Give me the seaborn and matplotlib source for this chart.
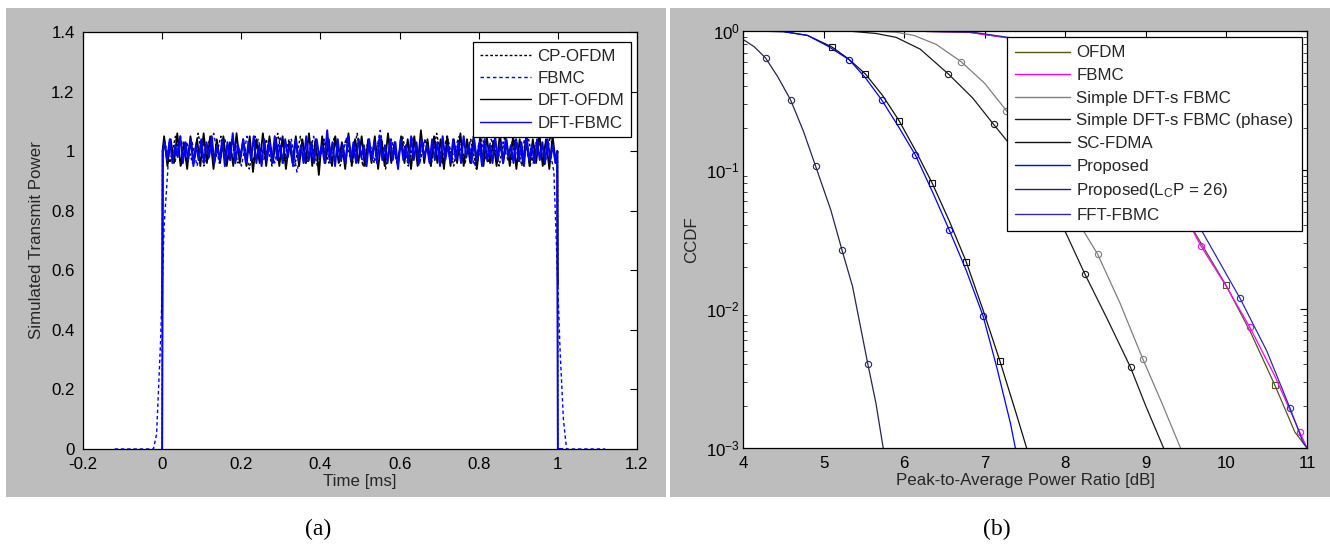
import numpy as np
import matplotlib
matplotlib.use("Agg")
import matplotlib.pyplot as plt
from matplotlib.lines import Line2D
from matplotlib.patches import Rectangle
import seaborn as sns

# ------------------------------------------------------------------ panel (a) data
a_labels = ["CP-OFDM", "FBMC", "DFT-OFDM", "DFT-FBMC"]
a_xticks = [-0.2, 0, 0.2, 0.4, 0.6, 0.8, 1.0, 1.2]
a_xticklabels = ["-0.2", "0", "0.2", "0.4", "0.6", "0.8", "1", "1.2"]
a_yticks = [0, 0.2, 0.4, 0.6, 0.8, 1.0, 1.2, 1.4]
a_yticklabels = ["0", "0.2", "0.4", "0.6", "0.8", "1", "1.2", "1.4"]

# edge samples (time in ms, power)
cp_ofdm_head_t = [0.0, 0.001]
cp_ofdm_head_p = [0.0, 1.0]
cp_ofdm_tail_t = [0.999, 1.0]
cp_ofdm_tail_p = [1.0, 0.0]
fbmc_head_t = [-0.12, -0.022, -0.014, -0.004, 0.005, 0.014]
fbmc_head_p = [0.0, 0.0, 0.05, 0.36, 0.75, 0.93]
fbmc_tail_t = [0.99, 0.996, 1.005, 1.014, 1.022, 1.12]
fbmc_tail_p = [0.93, 0.70, 0.35, 0.10, 0.0, 0.0]
dft_ofdm_head_t = [0.0, 0.001]
dft_ofdm_head_p = [0.45, 1.0]
dft_ofdm_tail_t = [0.999, 1.0]
dft_ofdm_tail_p = [1.0, 0.55]
dft_fbmc_head_t = [0.0, 0.002]
dft_fbmc_head_p = [0.0, 1.0]
dft_fbmc_tail_t = [0.998, 1.0, 1.012]
dft_fbmc_tail_p = [1.0, 0.0, 0.0]

# plateau samples (power)
cp_ofdm_plateau = [
    1.04, 0.96, 1.05, 0.95, 1.03, 0.96, 1.06, 0.95, 1.04, 0.97,
    1.05, 0.95, 1.04, 0.96, 1.03, 0.94, 1.05, 0.96, 1.04, 0.95,
    1.06, 0.96, 1.04, 0.95, 1.05, 0.96, 1.03, 0.95, 1.04, 0.96,
    1.05, 0.95, 1.04, 0.96, 1.06, 0.95, 1.04, 0.96, 1.05, 0.94,
    1.04, 0.96, 1.05, 0.95, 1.03, 0.96, 1.04, 0.95, 1.06, 0.96,
    1.04, 0.95, 1.05, 0.96, 1.04, 0.94, 1.05, 0.96, 1.04, 0.95,
    1.05, 0.96, 1.04, 0.95, 1.06, 0.96, 1.04, 0.95, 1.05, 0.96]
fbmc_plateau = [
    1.03, 0.96, 1.05, 0.97, 1.04, 0.95, 1.03, 0.97, 1.06, 0.96,
    1.04, 0.97, 1.03, 0.95, 1.05, 0.96, 1.04, 0.97, 1.03, 0.96,
    1.05, 0.97, 1.04, 0.93, 1.03, 0.96, 1.05, 0.97, 1.04, 0.96,
    1.03, 0.97, 1.05, 0.96, 1.04, 0.95, 1.03, 0.97, 1.07, 0.96,
    1.04, 0.97, 1.03, 0.96, 1.05, 0.95, 1.04, 0.97, 1.03, 0.96,
    1.05, 0.97, 1.04, 0.96, 1.03, 0.95, 1.05, 0.97, 1.04, 0.96,
    1.03, 0.97, 1.05, 0.96, 1.04, 0.95, 1.03, 0.97, 1.04, 0.96]
dft_ofdm_plateau = [
    1.05, 0.95, 1.04, 0.96, 1.06, 0.95, 1.03, 0.94, 1.05, 0.96,
    1.04, 0.95, 1.06, 0.96, 1.05, 0.94, 1.04, 0.96, 1.05, 0.95,
    1.03, 0.95, 1.06, 0.96, 1.04, 0.95, 1.05, 0.93, 1.04, 0.96,
    1.06, 0.95, 1.05, 0.96, 1.04, 0.95, 1.05, 0.94, 1.03, 0.96,
    1.05, 0.95, 1.04, 0.96, 1.06, 0.95, 1.04, 0.92, 1.05, 0.96,
    1.04, 0.95, 1.05, 0.96, 1.03, 0.94, 1.06, 0.95, 1.04, 0.96,
    1.05, 0.95, 1.04, 0.96, 1.05, 0.94, 1.04, 0.95, 1.06, 0.96,
    1.03, 0.95, 1.05, 0.96, 1.04, 0.94, 1.05, 0.95, 1.07, 0.96,
    1.04, 0.95, 1.05, 0.96, 1.04, 0.94, 1.05, 0.95, 1.04, 0.96,
    1.06, 0.95, 1.04, 0.96, 1.05, 0.94, 1.04, 0.95, 1.05, 0.96,
    1.03, 0.95, 1.06, 0.96, 1.04, 0.95, 1.05, 0.94, 1.04, 0.96,
    1.05, 0.95, 1.04, 0.96, 1.06, 0.95, 1.04, 0.94, 1.05, 0.96]
dft_fbmc_plateau = [
    1.03, 0.97, 1.04, 0.96, 1.02, 0.98, 1.05, 0.96, 1.03, 0.97,
    1.04, 0.95, 1.02, 0.97, 1.04, 0.96, 1.03, 0.98, 1.05, 0.96,
    1.02, 0.97, 1.04, 0.95, 1.03, 0.97, 1.06, 0.96, 1.02, 0.98,
    1.04, 0.96, 1.03, 0.97, 1.05, 0.96, 1.02, 0.95, 1.04, 0.97,
    1.03, 0.96, 1.05, 0.97, 1.02, 0.96, 1.04, 0.98, 1.03, 0.95,
    1.04, 0.97, 1.02, 0.96, 1.05, 0.97, 1.03, 0.96, 1.04, 0.98,
    1.02, 0.96, 1.07, 0.97, 1.03, 0.95, 1.04, 0.97, 1.02, 0.96,
    1.05, 0.97, 1.03, 0.96, 1.04, 0.98, 1.02, 0.95, 1.04, 0.97,
    1.03, 0.96, 1.05, 0.97, 1.02, 0.96, 1.04, 0.97, 1.03, 0.94,
    1.04, 0.97, 1.02, 0.96, 1.05, 0.97, 1.03, 0.96, 1.04, 0.98,
    1.02, 0.96, 1.04, 0.97, 1.03, 0.95, 1.05, 0.97, 1.02, 0.96,
    1.04, 0.97, 1.03, 0.96, 1.05, 0.98, 1.02, 0.96, 1.04, 0.97,
    1.03, 0.95, 1.04, 0.97, 1.02, 0.96, 1.05, 0.97, 1.03, 0.96,
    1.04, 0.98, 1.02, 0.96, 1.04, 0.97, 1.03, 0.95, 1.05, 0.97,
    1.02, 0.96, 1.04, 0.97, 1.03, 0.96, 1.04, 0.97, 1.02, 0.96]

# ------------------------------------------------------------------ panel (b) data
b_labels = ["OFDM", "FBMC", "Simple DFT-s FBMC", "Simple DFT-s FBMC (phase)",
            "SC-FDMA", "Proposed", r"Proposed(L$_\mathregular{C}$P = 26)", "FFT-FBMC"]
b_xticks = [4, 5, 6, 7, 8, 9, 10, 11]

ofdm_x = [4.0, 6.0, 6.8, 7.3, 7.8, 8.3, 8.8, 9.2, 9.6, 9.99, 10.3, 10.60, 10.85, 11.0]
ofdm_y = [1.0, 1.0, 0.98, 0.89, 0.72, 0.47, 0.22, 0.095, 0.036, 0.0150, 0.0068, 0.00284, 0.0013, 0.0010]
fbmc_x = [4.0, 6.0, 6.8, 7.3, 7.8, 8.3, 8.8, 9.2, 9.59, 9.68, 10.0, 10.29, 10.6, 10.91, 11.0]
fbmc_y = [1.0, 1.0, 0.98, 0.89, 0.72, 0.47, 0.22, 0.095, 0.036, 0.0286, 0.0145, 0.0074, 0.0033, 0.0013, 0.0010]
simple_x = [4.0, 5.6, 5.9, 6.12, 6.4, 6.71, 7.0, 7.27, 7.55, 7.83, 8.1, 8.40, 8.68, 8.96, 9.2, 9.43]
simple_y = [1.0, 1.0, 0.98, 0.93, 0.80, 0.60, 0.42, 0.267, 0.155, 0.086, 0.048, 0.0249, 0.011, 0.0044, 0.0021, 0.0010]
phase_x = [4.0, 5.3, 5.65, 5.9, 6.2, 6.55, 6.85, 7.11, 7.32, 7.67, 8.0, 8.24, 8.52, 8.81, 9.0, 9.22]
phase_y = [1.0, 1.0, 0.96, 0.90, 0.74, 0.49, 0.33, 0.213, 0.151, 0.075, 0.036, 0.018, 0.0085, 0.0038, 0.0020, 0.0010]
scfdma_x = [4.0, 4.5, 4.8, 5.10, 5.31, 5.52, 5.73, 5.94, 6.15, 6.35, 6.56, 6.77, 6.98, 7.19, 7.40, 7.52]
scfdma_y = [1.0, 0.99, 0.93, 0.77, 0.63, 0.49, 0.345, 0.225, 0.135, 0.080, 0.043, 0.0219, 0.0098, 0.0042, 0.0017, 0.0010]
proposed_x = [4.0, 4.5, 4.8, 5.05, 5.32, 5.52, 5.72, 5.93, 6.14, 6.35, 6.56, 6.77, 6.98, 7.15, 7.32, 7.38]
proposed_y = [1.0, 0.99, 0.93, 0.78, 0.62, 0.46, 0.32, 0.205, 0.128, 0.070, 0.037, 0.019, 0.0089, 0.0038, 0.0015, 0.0010]
lcp_x = [4.0, 4.14, 4.28, 4.43, 4.59, 4.75, 4.90, 5.09, 5.23, 5.36, 5.55, 5.65, 5.74]
lcp_y = [0.87, 0.77, 0.64, 0.47, 0.32, 0.19, 0.107, 0.0515, 0.0264, 0.0145, 0.0040, 0.0021, 0.0010]
fft_x = [4.0, 6.0, 6.85, 7.35, 7.85, 8.35, 8.85, 9.28, 9.70, 10.17, 10.5, 10.79, 10.95, 11.0]
fft_y = [1.0, 1.0, 0.98, 0.89, 0.72, 0.47, 0.22, 0.095, 0.036, 0.0119, 0.0050, 0.00193, 0.0011, 0.0010]

# ------------------------------------------------------------------ style
sns.set_theme(style="white")
plt.rcParams["font.family"] = ["Liberation Sans", "DejaVu Sans"]
plt.rcParams["mathtext.fontset"] = "custom"
plt.rcParams["mathtext.rm"] = "Liberation Sans"
plt.rcParams["mathtext.it"] = "Liberation Sans:italic"
plt.rcParams["axes.edgecolor"] = "black"
plt.rcParams["axes.linewidth"] = 0.9
FS = 12.2
GRAY = "#BDBDBD"

W, H = 1330, 546
fig = plt.figure(figsize=(W / 100, H / 100), dpi=100)
fig.patch.set_facecolor("white")

# grey figure panels
fig.patches.append(Rectangle((6 / W, 1 - 497 / H), 660 / W, 489 / H,
                             transform=fig.transFigure, facecolor=GRAY, edgecolor="none", zorder=-5))
fig.patches.append(Rectangle((670 / W, 1 - 497 / H), 660 / W, 489 / H,
                             transform=fig.transFigure, facecolor=GRAY, edgecolor="none", zorder=-5))


def px_rect(x0, y0, x1, y1):
    return [x0 / W, 1 - y1 / H, (x1 - x0) / W, (y1 - y0) / H]


axA = fig.add_axes(px_rect(83, 32, 637, 449))
axB = fig.add_axes(px_rect(743, 31, 1307, 448))
for ax in (axA, axB):
    ax.set_facecolor("white")
    for s in ax.spines.values():
        s.set_color("black")
        s.set_linewidth(0.9)

# ------------------------------------------------------------------ panel (a)
def series(head_t, head_p, plateau, tail_t, tail_p):
    grid = np.linspace(head_t[-1] + 0.004, tail_t[0] - 0.004, len(plateau))
    t = np.concatenate([head_t, grid, tail_t])
    p = np.concatenate([head_p, plateau, tail_p])
    return t, p


a_series = [
    (series(cp_ofdm_head_t, cp_ofdm_head_p, cp_ofdm_plateau, cp_ofdm_tail_t, cp_ofdm_tail_p), "black", (0, (2, 1.5)), 1.0),
    (series(fbmc_head_t, fbmc_head_p, fbmc_plateau, fbmc_tail_t, fbmc_tail_p), "#0000FF", (0, (2.5, 2)), 1.0),
    (series(dft_ofdm_head_t, dft_ofdm_head_p, dft_ofdm_plateau, dft_ofdm_tail_t, dft_ofdm_tail_p), "black", "-", 1.3),
    (series(dft_fbmc_head_t, dft_fbmc_head_p, dft_fbmc_plateau, dft_fbmc_tail_t, dft_fbmc_tail_p), "#0000FF", "-", 1.4),
]
for (t, p), c, ls, lw in a_series:
    sns.lineplot(x=t, y=p, ax=axA, sort=False, estimator=None, errorbar=None,
                 color=c, linestyle=ls, linewidth=lw)

axA.set_xlim(-0.2, 1.2)
axA.set_ylim(0, 1.4)
axA.set_xticks(a_xticks)
axA.set_xticklabels(a_xticklabels)
axA.set_yticks(a_yticks)
axA.set_yticklabels(a_yticklabels)
axA.tick_params(direction="in", length=5, width=0.8, top=True, right=True,
                labelsize=FS, colors="black", pad=6)
axA.set_xlabel("Time [ms]", fontsize=FS, labelpad=1)
axA.set_ylabel("Simulated Transmit Power", fontsize=FS, labelpad=5)

a_handles = [Line2D([], [], color="black", ls=(0, (2, 1.5)), lw=1.0),
             Line2D([], [], color="#0000FF", ls=(0, (2.5, 2)), lw=1.0),
             Line2D([], [], color="black", lw=1.0),
             Line2D([], [], color="#0000FF", lw=1.0)]
legA = axA.legend(a_handles, a_labels, loc="upper right", bbox_to_anchor=(0.989, 0.976),
                  borderaxespad=0, fontsize=FS, frameon=True, fancybox=False, framealpha=1,
                  edgecolor="black", handlelength=3.0, handletextpad=0.4,
                  labelspacing=0.43, borderpad=0.4)
legA.get_frame().set_linewidth(0.9)

# ------------------------------------------------------------------ panel (b)
b_series = [
    (ofdm_x, ofdm_y, "#55551A", "s", [9, 11]),
    (fbmc_x, fbmc_y, "#FF00FF", "o", [9, 11, 13]),
    (simple_x, simple_y, "#7F7F7F", "o", [5, 7, 9, 11, 13]),
    (phase_x, phase_y, "#1A1A1A", "o", [5, 7, 9, 11, 13]),
    (scfdma_x, scfdma_y, "#111111", "s", [3, 5, 7, 9, 11, 13]),
    (proposed_x, proposed_y, "#0000FF", "o", [4, 6, 8, 10, 12]),
    (lcp_x, lcp_y, "#262650", "o", [2, 4, 6, 8, 10]),
    (fft_x, fft_y, "#2A2AA8", "o", [9, 11]),
]
for x, y, c, m, idx in b_series:
    sns.lineplot(x=x, y=y, ax=axB, sort=False, estimator=None, errorbar=None,
                 color=c, linewidth=0.9, marker=m, markevery=idx, ms=4.5,
                 mfc="none", mec=c, mew=0.8)

axB.set_yscale("log")
axB.set_xlim(4, 11)
axB.set_ylim(1e-3, 1)
axB.set_xticks(b_xticks)
axB.set_xticklabels([str(v) for v in b_xticks])
axB.tick_params(which="major", direction="in", length=5, width=0.8, top=True, right=True,
                labelsize=FS, colors="black")
axB.tick_params(axis="x", pad=6)
axB.tick_params(axis="y", pad=2)
axB.tick_params(which="minor", direction="in", length=3, width=0.6, top=False, right=True,
                left=True, bottom=False)
axB.set_xlabel("Peak-to-Average Power Ratio [dB]", fontsize=FS, labelpad=1)
axB.set_ylabel("CCDF", fontsize=FS, labelpad=5)

b_handles = [Line2D([], [], color=c, lw=1.0) for _, _, c, _, _ in b_series]
legB = axB.legend(b_handles, b_labels, loc="upper right", bbox_to_anchor=(0.991, 0.9856),
                  borderaxespad=0, fontsize=FS, frameon=True, fancybox=False, framealpha=1,
                  edgecolor="black", handlelength=3.2, handletextpad=0.4,
                  labelspacing=0.45, borderpad=0.5)
legB.get_frame().set_linewidth(0.9)

# ------------------------------------------------------------------ captions
fig.text(318 / W, 1 - 529 / H, "(a)", ha="center", va="center",
         fontsize=17, family=["Liberation Serif", "DejaVu Serif"], color="black")
fig.text(997 / W, 1 - 529 / H, "(b)", ha="center", va="center",
         fontsize=17, family=["Liberation Serif", "DejaVu Serif"], color="black")

fig.savefig("out.png", dpi=100, facecolor="white")
